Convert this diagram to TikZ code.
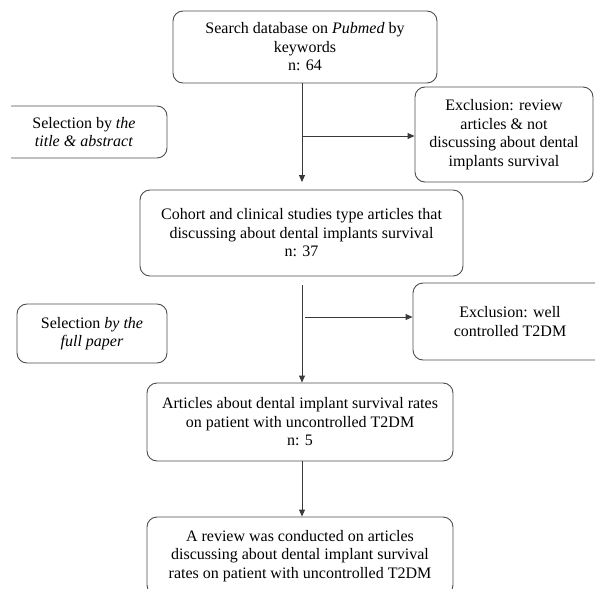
\documentclass[tikz,border=0pt]{standalone}
\usepackage{fontspec}
\setmainfont{Liberation Serif}
\usetikzlibrary{arrows.meta}
\definecolor{bordergray}{HTML}{4D4D4D}
\definecolor{linegray}{HTML}{3A3A3A}
\begin{document}
\begin{tikzpicture}[x=1pt,y=-1pt,
  box/.style={draw=bordergray, line width=0.9pt, rounded corners=10pt, align=center, inner sep=0pt, font=\fontsize{16}{18.5}\selectfont, text=black},
  arr/.style={draw=linegray, line width=0.9pt, -{Triangle[length=7pt,width=6pt]}}]
\useasboundingbox (0,0) rectangle (595,589);
\clip (0,0) rectangle (595,589);

\node[box, minimum width=264pt, minimum height=72pt] (search) at (305,47) {Search database on \textit{Pubmed} by\\keywords\\n: 64};
\begin{scope}
  \clip (11,0) rectangle (595,589);
  \node[box, minimum width=166pt, minimum height=52pt] (sel1) at (84,132) {Selection by \textit{the}\\\textit{title \& abstract}};
\end{scope}
\node[box, minimum width=178pt, minimum height=95pt] (ex1) at (504,134.5) {Exclusion: review\\articles \& not\\discussing about dental\\implants survival};
\node[box, minimum width=323pt, minimum height=86pt] (cohort) at (301.5,233) {Cohort and clinical studies type articles that\\discussing about dental implants survival\\n: 37};
\node[box, minimum width=150pt, minimum height=59pt] (sel2) at (92,333.5) {Selection \textit{by the}\\\textit{full paper}};
\node[box, minimum width=194pt, minimum height=77pt] (ex2) at (510,321.5) {Exclusion: well\\controlled T2DM};
\node[box, minimum width=306pt, minimum height=78pt] (art) at (300,422) {Articles about dental implant survival rates\\on patient with uncontrolled T2DM\\n: 5};
\node[box, minimum width=306pt, minimum height=78pt] (rev) at (300,556) {A review was conducted on articles\\discussing about dental implant survival\\rates on patient with uncontrolled T2DM};

\coordinate (j1) at (302,136);
\coordinate (a1end) at (302,182);
\coordinate (j2s) at (302,285);
\coordinate (j2) at (305,317);

\draw[arr] (search.south -| j1) -- (a1end);
\draw[arr] (j1) -- (j1 -| ex1.west);
\draw[arr] (j2s) -- (art.north -| j2s);
\draw[arr] (j2) -- (j2 -| ex2.west);
\draw[arr] (art.south -| j1) -- (rev.north -| j1);
\end{tikzpicture}
\end{document}
